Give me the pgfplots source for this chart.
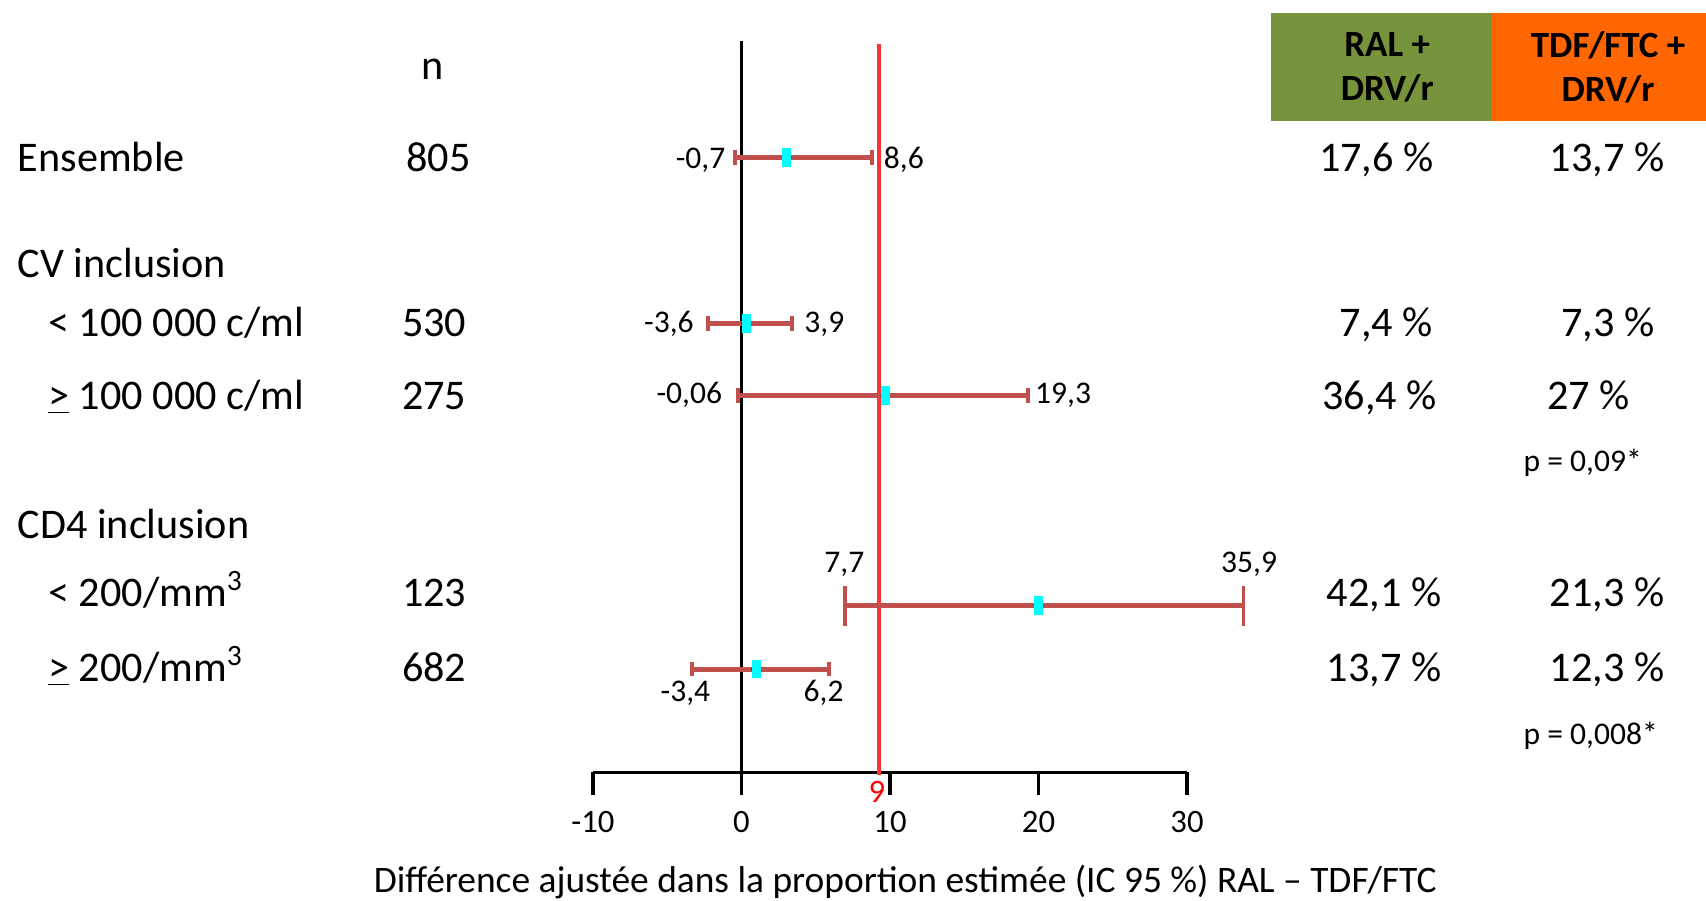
\documentclass[border=0pt]{standalone}
\usepackage{pgfplots}
\pgfplotsset{compat=1.18}
\usepackage{pgfplotstable}
\usepackage{fontspec}
\setmainfont{Carlito}
\definecolor{olivegreen}{HTML}{77933C}
\definecolor{orangeh}{HTML}{FF6600}
\definecolor{errc}{HTML}{C0504D}
\definecolor{redline}{HTML}{FF3333}
\definecolor{cyanm}{HTML}{00FFFF}
\newcommand\fm{\fontsize{19.4}{23}\selectfont}
\newcommand\fh{\fontsize{17}{20}\selectfont\bfseries}
\newcommand\fc{\fontsize{14.5}{17}\selectfont}
\newcommand\fp{\fontsize{14.5}{17}\selectfont}
\newcommand\ft{\fontsize{15}{18}\selectfont}
\newcommand\fx{\fontsize{17.2}{20}\selectfont}

% y = -(vertical position of the row), x = difference (%)
\pgfplotstableread{
y est lo hi
-144.6 3.04 -0.43 8.77
-297.2 0.31 -2.23 3.38
-363.4 9.69 -0.21 19.30
-614.9 0.99 -3.33 5.90
}\cismall
\pgfplotstableread{
y est lo hi
-556.7 20.0 7.0 33.8
}\cibig

\begin{document}
\begin{tikzpicture}
\path[use as bounding box] (0,0) rectangle (784pt,-414pt);
\begin{axis}[
  at={(272.5pt,-355pt)}, anchor=south west,
  scale only axis, width=273pt, height=355pt,
  xmin=-10, xmax=30, ymin=-710, ymax=0,
  clip=false,
  axis x line*=bottom, axis y line=none,
  axis line style={black, line width=1.8pt},
  xtick={-10,0,10,20,30}, xticklabels={-10,0,10,20,30},
  tick align=outside, major tick length=10.5pt,
  tick style={black, line width=1.5pt},
  xticklabel style={font=\ft, text=black, yshift=-4pt},
]
\addplot[black, line width=1.3pt] coordinates {(0,-38) (0,-710)};
\addplot[redline, line width=2.15pt] coordinates {(9.25,-40) (9.25,-712)};
\addplot[only marks, mark=none,
  error bars/.cd, x dir=both, x explicit, error mark=|,
  error bar style={errc, line width=2.3pt},
  error mark options={errc, line width=1.8pt, mark size=3.3pt}]
  table[x=est, y=y, x error plus expr=\thisrow{hi}-\thisrow{est}, x error minus expr=\thisrow{est}-\thisrow{lo}] {\cismall};
\addplot[only marks, mark=none,
  error bars/.cd, x dir=both, x explicit, error mark=|,
  error bar style={errc, line width=2.3pt},
  error mark options={errc, line width=1.8pt, mark size=9.2pt}]
  table[x=est, y=y, x error plus expr=\thisrow{hi}-\thisrow{est}, x error minus expr=\thisrow{est}-\thisrow{lo}] {\cibig};
\addplot[cyanm, only marks, mark=square*, mark size=4.1pt, mark options={xscale=0.45, fill=cyanm, draw=cyanm, line width=0pt}]
  table[x=est, y=y] {\cismall};
\addplot[cyanm, only marks, mark=square*, mark size=4.1pt, mark options={xscale=0.45, fill=cyanm, draw=cyanm, line width=0pt}]
  table[x=est, y=y] {\cibig};
\end{axis}
\begin{scope}[x=0.5pt, y=-0.5pt]
% header boxes
\fill[olivegreen] (1168,12) rectangle (1371,111);
\fill[orangeh] (1371,12) rectangle (1568,111);
\node[align=center, font=\fh, inner sep=0pt] at (1275,62) {RAL +\\DRV/r};
\node[align=center, font=\fh, inner sep=0pt] at (1478,62) {TDF/FTC +\\DRV/r};
% n column
\node[font=\fm, anchor=base, inner sep=0pt] at (398,73) {n};
\node[font=\fm, anchor=base, inner sep=0pt] at (403,158) {805};
\node[font=\fm, anchor=base, inner sep=0pt] at (399,309) {530};
\node[font=\fm, anchor=base, inner sep=0pt] at (399,376) {275};
\node[font=\fm, anchor=base, inner sep=0pt] at (399,557.5) {123};
\node[font=\fm, anchor=base, inner sep=0pt] at (399,626.5) {682};
% row labels
\node[font=\fm, anchor=base west, inner sep=0pt] at (16,158) {Ensemble};
\node[font=\fm, anchor=base west, inner sep=0pt] at (16,255) {CV inclusion};
\node[font=\fm, anchor=base west, inner sep=0pt] at (44,309) {< 100 000 c/ml};
\node[font=\fm, anchor=base west, inner sep=0pt] at (44,376) {\underline{>} 100 000 c/ml};
\node[font=\fm, anchor=base west, inner sep=0pt] at (16,494.5) {CD4 inclusion};
\node[font=\fm, anchor=base west, inner sep=0pt] at (44,557.5) {< 200/mm\textsuperscript{3}};
\node[font=\fm, anchor=base west, inner sep=0pt] at (44,626.5) {\underline{>} 200/mm\textsuperscript{3}};
% RAL column
\node[font=\fm, anchor=base, inner sep=0pt] at (1265,158) {17,6 \%};
\node[font=\fm, anchor=base, inner sep=0pt] at (1274,309) {7,4 \%};
\node[font=\fm, anchor=base, inner sep=0pt] at (1268,376) {36,4 \%};
\node[font=\fm, anchor=base, inner sep=0pt] at (1272,557.5) {42,1 \%};
\node[font=\fm, anchor=base, inner sep=0pt] at (1272,626.5) {13,7 \%};
% TDF column
\node[font=\fm, anchor=base, inner sep=0pt] at (1477,158) {13,7 \%};
\node[font=\fm, anchor=base, inner sep=0pt] at (1478,309) {7,3 \%};
\node[font=\fm, anchor=base, inner sep=0pt] at (1460,376) {27 \%};
\node[font=\fm, anchor=base, inner sep=0pt] at (1477,557.5) {21,3 \%};
\node[font=\fm, anchor=base, inner sep=0pt] at (1477,626.5) {12,3 \%};
% p values
\node[font=\fp, anchor=base west, inner sep=0pt] at (1400,433.5) {p = 0,09*};
\node[font=\fp, anchor=base west, inner sep=0pt] at (1400,684.5) {p = 0,008*};
% CI labels
\node[font=\fc, anchor=base east, inner sep=0pt] at (667,154.5) {-0,7};
\node[font=\fc, anchor=base west, inner sep=0pt] at (812,154.5) {8,6};
\node[font=\fc, anchor=base east, inner sep=0pt] at (638,305.5) {-3,6};
\node[font=\fc, anchor=base west, inner sep=0pt] at (739,305.5) {3,9};
\node[font=\fc, anchor=base east, inner sep=0pt] at (664,371) {-0,06};
\node[font=\fc, anchor=base west, inner sep=0pt] at (951,371) {19,3};
\node[font=\fc, anchor=base, inner sep=0pt] at (776,526) {7,7};
\node[font=\fc, anchor=base, inner sep=0pt] at (1148,526) {35,9};
\node[font=\fc, anchor=base, inner sep=0pt] at (630,645) {-3,4};
\node[font=\fc, anchor=base, inner sep=0pt] at (757,645) {6,2};
% red 9
\node[font=\ft, text=red, anchor=base, inner sep=0pt] at (806,738) {9};
% x label
\node[font=\fx, anchor=base, inner sep=0pt] at (832,820) {Différence ajustée dans la proportion estimée (IC 95 \%) RAL – TDF/FTC};
\end{scope}
\end{tikzpicture}
\end{document}
